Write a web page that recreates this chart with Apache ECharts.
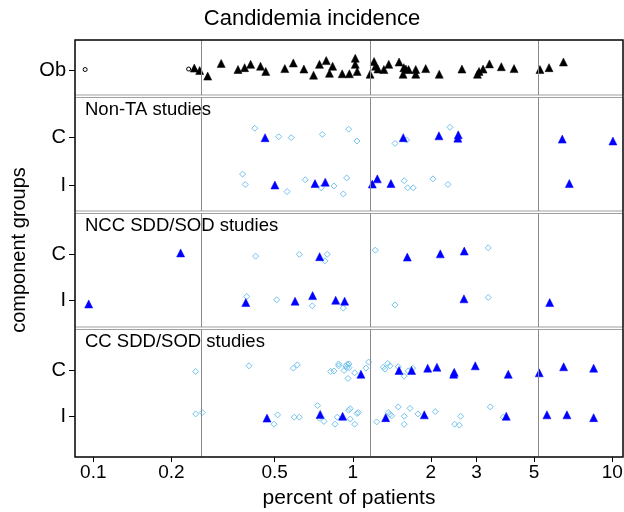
<!DOCTYPE html>
<html>
<head>
<meta charset="utf-8">
<script src="https://cdn.jsdelivr.net/npm/echarts@6/dist/echarts.min.js"></script>
<style>
  html, body { margin: 0; padding: 0; background: #fff; }
  #chart { width: 624px; height: 512px; }
</style>
</head>
<body>
<div id="chart"></div>
<script>
// x axis ticks and reference lines (percent of patients, log scale)
const xTicks = [0.1, 0.2, 0.5, 1, 2, 3, 5, 10];
const refLines = [0.26, 1.17, 5.2];

// panel titles and row labels
const stripLabels = ['', 'Non-TA studies', 'NCC SDD/SOD studies', 'CC SDD/SOD studies'];
const rowLabels = ['I', 'C'];

// points: [percent, row position with jitter] (1 = I, 2 = C; Ob row = 1)
const obOpen = [[0.093, 1.01], [0.233, 1.02]];
const obTriangles = [
  [0.245, 1.04], [0.257, 0.99], [0.276, 0.87], [0.311, 1.14], [0.361, 1.01], [0.383, 1.05],
  [0.404, 1.12], [0.441, 1.08], [0.462, 0.97], [0.547, 1.03], [0.590, 1.15], [0.648, 1.02],
  [0.706, 0.89], [0.744, 1.12], [0.790, 1.20], [0.813, 0.93], [0.836, 1.08], [0.910, 0.92],
  [0.970, 0.92], [1.022, 1.25], [1.022, 1.12], [1.040, 0.97], [1.166, 0.91], [1.208, 1.18],
  [1.224, 1.08], [1.250, 1.02], [1.318, 1.01], [1.376, 1.12], [1.508, 1.17], [1.562, 0.91],
  [1.573, 1.05], [1.602, 1.02], [1.641, 1.01], [1.748, 1.01], [1.748, 0.91], [1.910, 1.03],
  [2.154, 0.91], [2.634, 1.02], [3.022, 0.91], [3.066, 0.97], [3.177, 1.02], [3.363, 1.13],
  [3.737, 1.07], [4.183, 1.03], [5.264, 1.01], [5.706, 1.05], [6.484, 1.17]
];

const nonTaDiamonds = [
  [0.419, 2.20], [0.518, 2.02], [0.579, 2.00], [0.763, 2.07], [0.964, 2.18], [1.038, 1.93],
  [1.454, 1.88], [1.613, 1.95], [2.369, 2.22],
  [0.376, 1.23], [0.385, 1.01], [0.558, 0.86], [0.656, 1.11], [0.756, 0.94], [0.846, 0.98],
  [0.919, 0.81], [0.947, 1.15], [1.579, 1.09], [1.627, 0.94], [1.710, 0.94], [2.037, 1.13],
  [2.327, 1.01]
];
const nonTaTriangles = [
  [0.459, 2.00], [1.565, 2.00], [2.148, 2.04], [2.550, 2.06], [2.540, 1.99], [6.416, 1.97],
  [10.06, 1.93],
  [0.501, 1.00], [0.715, 1.03], [0.783, 1.06], [1.189, 1.02], [1.243, 1.13], [1.403, 1.03],
  [6.830, 1.03]
];

const nccDiamonds = [
  [0.422, 1.96], [0.622, 2.00], [0.797, 2.00], [0.781, 1.86], [1.221, 2.09], [3.327, 2.14],
  [0.390, 1.09], [0.509, 1.02], [0.698, 0.89], [0.919, 0.84], [1.454, 0.91], [3.327, 1.07]
];
const nccTriangles = [
  [0.217, 2.03], [0.745, 1.95], [1.622, 1.94], [2.174, 2.01], [2.689, 2.07],
  [0.096, 0.93], [0.387, 0.96], [0.599, 0.99], [0.700, 1.11], [0.859, 1.01], [0.930, 0.99],
  [2.682, 1.04], [5.740, 0.96]
];

const ccDiamonds = [
  [0.248, 1.97], [0.398, 2.09], [0.590, 2.04], [0.611, 2.11], [0.822, 1.97], [0.846, 1.98],
  [0.882, 2.13], [0.882, 2.09], [0.925, 1.99], [0.947, 2.05], [0.952, 2.12], [0.958, 1.82],
  [0.941, 2.09], [0.967, 2.13], [0.967, 2.05], [1.017, 1.94], [1.124, 2.04], [1.151, 2.17],
  [1.311, 2.06], [1.331, 2.02], [1.363, 2.14], [1.391, 2.09], [1.497, 2.07], [1.579, 1.87],
  [1.636, 1.98], [1.701, 2.04],
  [0.248, 1.06], [0.263, 1.09], [0.497, 0.84], [0.513, 1.04], [0.595, 0.99], [0.622, 0.99],
  [0.732, 1.24], [0.743, 0.97], [0.774, 0.90], [0.854, 0.84], [0.871, 0.99], [0.964, 1.14],
  [0.978, 1.17], [0.978, 0.95], [1.017, 0.84], [1.038, 1.07], [1.050, 1.09], [1.236, 0.89],
  [1.370, 1.09], [1.391, 1.05], [1.412, 1.02], [1.497, 1.21], [1.579, 1.01], [1.579, 0.84],
  [1.661, 1.18], [1.783, 1.06], [2.079, 1.11], [2.470, 0.84], [2.572, 0.82], [2.604, 1.01],
  [3.387, 1.21], [3.802, 0.99]
];
const ccTriangles = [
  [1.075, 1.91], [1.507, 1.99], [1.686, 1.99], [1.944, 2.04], [2.110, 2.06], [2.447, 1.91],
  [2.460, 1.95], [2.965, 2.09], [3.974, 1.91], [5.232, 1.94], [6.496, 2.07], [8.478, 2.04],
  [0.467, 0.97], [0.749, 1.05], [0.914, 1.01], [1.339, 0.98], [1.886, 1.04], [3.904, 1.01],
  [5.602, 1.04], [6.689, 1.04], [8.478, 0.98]
];

// panel layout (pixels) and y ranges
const FONT = 'Liberation Sans, Arial, sans-serif';
const PLOT_LEFT = 75, PLOT_W = 548;
const panels = [
  { top: 40, height: 55, yMin: 0.468, yMax: 1.638, ticks: [1], labels: ['Ob'] },
  { top: 97.5, height: 113.5, yMin: 0.45, yMax: 2.85, ticks: [1, 2], labels: rowLabels },
  { top: 213.5, height: 113.5, yMin: 0.433, yMax: 2.88, ticks: [1, 2], labels: rowLabels },
  { top: 329.5, height: 127.5, yMin: 0.137, yMax: 2.868, ticks: [1, 2], labels: rowLabels }
];
const stripTops = [0, 100, 216, 332];

const chart = echarts.init(document.getElementById('chart'), null, { renderer: 'canvas' });

const grids = [], xAxes = [], yAxes = [], series = [], titles = [];

titles.push({
  text: 'Candidemia incidence', left: 'center', top: 8, padding: 0,
  textStyle: { fontSize: 22, fontWeight: 'normal', color: '#000', fontFamily: FONT }
});

panels.forEach((p, i) => {
  const last = i === panels.length - 1;
  grids.push({
    left: PLOT_LEFT, width: PLOT_W, top: p.top, height: p.height,
    show: true, borderColor: '#a0a0a0', borderWidth: 1, backgroundColor: '#fff',
    containLabel: false, outerBoundsMode: 'none'
  });
  xAxes.push({
    type: 'log', logBase: 10, gridIndex: i, min: 0.085, max: 11,
    axisLine: { show: false },
    splitLine: { show: false },
    axisTick: { show: last, customValues: xTicks, length: 5, lineStyle: { color: '#000', width: 1 } },
    axisLabel: {
      show: last, customValues: xTicks, margin: 6, fontSize: 19, color: '#000', fontFamily: FONT,
      formatter: v => String(+(+v).toPrecision(3))
    },
    name: last ? 'percent of patients' : '',
    nameLocation: 'middle', nameGap: 31,
    nameTextStyle: { fontSize: 21, color: '#000', fontFamily: FONT }
  });
  yAxes.push({
    type: 'value', gridIndex: i, min: p.yMin, max: p.yMax,
    axisLine: { show: false },
    splitLine: { show: false },
    axisTick: { show: true, customValues: p.ticks, length: 6, lineStyle: { color: '#000', width: 1 } },
    axisLabel: {
      show: true, customValues: p.ticks, margin: 9, fontSize: 20, color: '#000', fontFamily: FONT,
      formatter: v => p.labels[p.ticks.indexOf(Math.round(v))] || ''
    }
  });
  if (stripLabels[i]) {
    titles.push({
      text: stripLabels[i], left: 85, top: stripTops[i], padding: 0,
      textStyle: { fontSize: 18.5, fontWeight: 'normal', color: '#000', fontFamily: FONT }
    });
  }
  // reference lines in every panel
  series.push({
    type: 'scatter', xAxisIndex: i, yAxisIndex: i, data: [], silent: true, z: 1,
    markLine: {
      silent: true, symbol: 'none', animation: false,
      label: { show: false },
      lineStyle: { color: '#8a8a8a', width: 1, type: 'solid' },
      data: refLines.map(v => ({ xAxis: v }))
    }
  });
});

function openSeries(idx, data, symbol, size, color) {
  return {
    type: 'scatter', xAxisIndex: idx, yAxisIndex: idx, data, symbol, symbolSize: size,
    silent: true, z: 3,
    itemStyle: { color: 'rgba(0,0,0,0)', borderColor: color, borderWidth: 1, opacity: 1 }
  };
}
function filledSeries(idx, data, color, size) {
  return {
    type: 'scatter', xAxisIndex: idx, yAxisIndex: idx, data, symbol: 'triangle', symbolSize: size,
    silent: true, z: 4,
    itemStyle: { color: color, borderColor: color, borderWidth: 0.5, opacity: 1 }
  };
}

series.push(openSeries(0, obOpen, 'circle', 4, '#000'));
series.push(filledSeries(0, obTriangles, '#000', 8));
series.push(openSeries(1, nonTaDiamonds, 'diamond', 6, '#72c4ee'));
series.push(filledSeries(1, nonTaTriangles, '#0000ff', 8));
series.push(openSeries(2, nccDiamonds, 'diamond', 6, '#72c4ee'));
series.push(filledSeries(2, nccTriangles, '#0000ff', 8));
series.push(openSeries(3, ccDiamonds, 'diamond', 6, '#72c4ee'));
series.push(filledSeries(3, ccTriangles, '#0000ff', 8));

const option = {
  animation: false,
  backgroundColor: '#fff',
  title: titles,
  grid: grids,
  xAxis: xAxes,
  yAxis: yAxes,
  series: series,
  graphic: [
    {
      type: 'rect', z: 100, silent: true,
      shape: { x: PLOT_LEFT, y: panels[0].top, width: PLOT_W, height: panels[3].top + panels[3].height - panels[0].top },
      style: { fill: 'none', stroke: '#111', lineWidth: 1.5 }
    },
    {
      type: 'text', z: 100, silent: true, x: 19, y: 250, rotation: Math.PI / 2,
      style: { text: 'component groups', font: '20px ' + FONT, fill: '#000', align: 'center', verticalAlign: 'middle' }
    }
  ]
};

chart.setOption(option);
</script>
</body>
</html>
